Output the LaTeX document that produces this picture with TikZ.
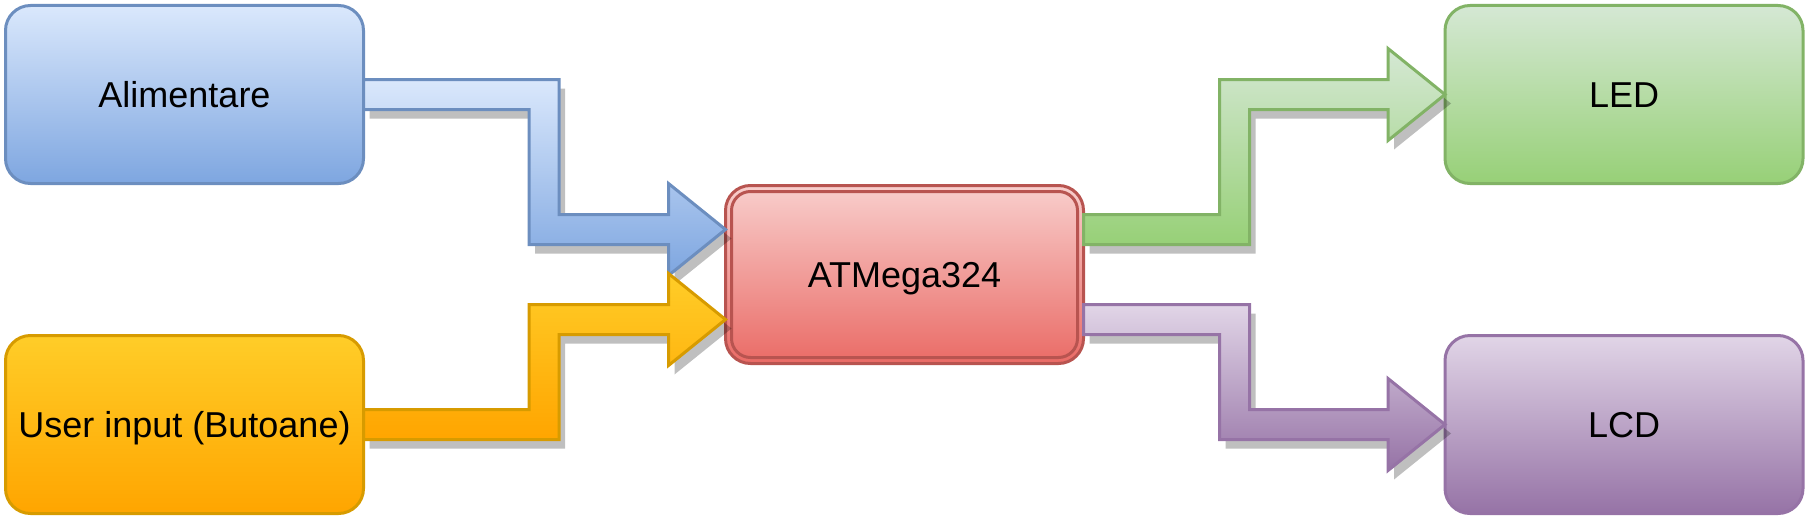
\documentclass[tikz,border=0pt]{standalone}
\usepackage{fontspec}
\setmainfont{Liberation Sans}
\usetikzlibrary{calc}
\usetikzlibrary{shadows}
\usepackage{xcolor}

\definecolor{bluetop}{HTML}{DAE8FC}
\definecolor{bluebot}{HTML}{7EA6E0}
\definecolor{blueline}{HTML}{6C8EBF}
\definecolor{orangetop}{HTML}{FFCD28}
\definecolor{orangebot}{HTML}{FFA500}
\definecolor{orangeline}{HTML}{D79B00}
\definecolor{redtop}{HTML}{F8CECC}
\definecolor{redbot}{HTML}{EA6B66}
\definecolor{redline}{HTML}{B85450}
\definecolor{greentop}{HTML}{D5E8D4}
\definecolor{greenbot}{HTML}{97D077}
\definecolor{greenline}{HTML}{82B366}
\definecolor{purpletop}{HTML}{E1D5E7}
\definecolor{purplebot}{HTML}{9673A6}
\definecolor{purpleline}{HTML}{9673A6}

\tikzset{
  block/.style={rounded corners=25pt,minimum width=358pt,minimum height=178pt,inner sep=0pt,outer sep=0pt,line width=3pt,text height=26pt,text depth=0pt,font=\fontsize{36}{43}\selectfont},
  flow/.style={line width=3pt,drop shadow={shadow xshift=6pt,shadow yshift=-9pt,fill=black,opacity=0.25}},
  blueblock/.style={block,draw=blueline,top color=bluetop,bottom color=bluebot},
  orangeblock/.style={block,draw=orangeline,top color=orangetop,bottom color=orangebot},
  redblock/.style={block,draw=redline,top color=redtop,bottom color=redbot},
  greenblock/.style={block,draw=greenline,top color=greentop,bottom color=greenbot},
  purpleblock/.style={block,draw=purpleline,top color=purpletop,bottom color=purplebot},
  blueflow/.style={flow,draw=blueline,top color=bluetop,bottom color=bluebot},
  orangeflow/.style={flow,draw=orangeline,top color=orangetop,bottom color=orangebot},
  greenflow/.style={flow,draw=greenline,top color=greentop,bottom color=greenbot},
  purpleflow/.style={flow,draw=purpleline,top color=purpletop,bottom color=purplebot}
}

\newcommand{\steparrow}[5]{%
\path[#1] let \p1=(#2), \p2=(#3) in
  (\x1,{\y1+15pt}) -- ({#4pt+(#5)*15pt},{\y1+15pt}) -- ({#4pt+(#5)*15pt},{\y2+15pt})
  -- ({\x2-57pt},{\y2+15pt}) -- ({\x2-57pt},{\y2+46pt}) -- (\x2,\y2)
  -- ({\x2-57pt},{\y2-46pt}) -- ({\x2-57pt},{\y2-15pt})
  -- ({#4pt-(#5)*15pt},{\y2-15pt}) -- ({#4pt-(#5)*15pt},{\y1-15pt}) -- (\x1,{\y1-15pt}) -- cycle;%
}

\begin{document}
\begin{tikzpicture}[x=1pt,y=-1pt]
\useasboundingbox (0,0) rectangle (1809,519);

\node[blueblock] (alim) at (184.5,94.5) {Alimentare};
\node[orangeblock] (user) at (184.5,424.5) {User input (Butoane)};
\node[redblock] (mcu) at (904.5,274.5) {ATMega324};
\node[greenblock] (led) at (1624,94.5) {LED};
\node[purpleblock] (lcd) at (1624,424.5) {LCD};
\draw[redline,line width=3pt,rounded corners=19pt] ($(mcu.south west)+(6,-6)$) rectangle ($(mcu.north east)+(-6,6)$);

\steparrow{blueflow}{alim.east}{$(mcu.west)+(0,-45)$}{544}{1}
\steparrow{orangeflow}{user.east}{$(mcu.west)+(0,45)$}{544}{-1}
\steparrow{greenflow}{$(mcu.east)+(0,-45)$}{led.west}{1234.5}{-1}
\steparrow{purpleflow}{$(mcu.east)+(0,45)$}{lcd.west}{1234.5}{1}
\end{tikzpicture}
\end{document}
